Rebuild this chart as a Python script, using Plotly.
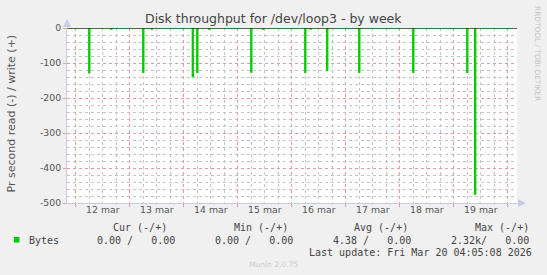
import plotly.graph_objects as go
import pandas as pd

# ---- data ----
range_start = "2026-03-11 20:05:08"
range_end = "2026-03-20 04:05:08"
step_minutes = 30

spike_times = ["2026-03-12 05:45", "2026-03-12 15:30", "2026-03-13 05:45", "2026-03-13 09:30",
               "2026-03-14 03:45", "2026-03-14 05:45", "2026-03-14 11:00", "2026-03-15 05:45",
               "2026-03-15 11:00", "2026-03-16 05:45", "2026-03-16 08:00", "2026-03-16 15:30",
               "2026-03-17 05:45", "2026-03-18 05:45", "2026-03-19 05:45", "2026-03-19 09:15"]
spike_values = [-128, -3, -127, -3,
                -140, -127, -3, -126,
                -3, -127, -3, -121,
                -127, -127, -127, -475]

day_gridlines = ["2026-03-12", "2026-03-13", "2026-03-14", "2026-03-15", "2026-03-16",
                 "2026-03-17", "2026-03-18", "2026-03-19", "2026-03-20"]
label_positions = ["2026-03-12 12:00", "2026-03-13 12:00", "2026-03-14 12:00", "2026-03-15 12:00",
                   "2026-03-16 12:00", "2026-03-17 12:00", "2026-03-18 12:00", "2026-03-19 12:00"]
tick_labels = ["12 mar", "13 mar", "14 mar", "15 mar", "16 mar", "17 mar", "18 mar", "19 mar"]

y_ticks = [0, -100, -200, -300, -400, -500]
y_tick_labels = ["0", "-100", "-200", "-300", "-400", "-500"]

legend_headers = ["Cur (-/+)", "Min (-/+)", "Avg (-/+)", "Max (-/+)"]
legend_values = ["0.00 /   0.00", "0.00 /   0.00", "4.38 /   0.00", "2.32k/   0.00"]
series_name = "Bytes"
last_update = "Last update: Fri Mar 20 04:05:08 2026"

# ---- build step series ----
xs = [pd.Timestamp(range_start)]
ys = [0]
for t, v in sorted(zip(spike_times, spike_values)):
    ts = pd.Timestamp(t)
    xs += [ts, ts + pd.Timedelta(minutes=step_minutes)]
    ys += [v, 0]
xs.append(pd.Timestamp(range_end))
ys.append(0)

W, H = 547, 275
L, R, T, B = 67, 30, 28, 72
PW, PH = W - L - R, H - T - B


def px(x):
    return (x - L) / PW


def py(y):
    return (H - B - y) / PH


GREEN = "#00CC00"
MAJOR = "#e89a9a"
MINOR = "#c4c4c4"

fig = go.Figure()
fig.add_trace(go.Scatter(x=xs, y=ys, mode="lines", line=dict(color=GREEN, width=1.2, shape="hv"),
                         fill="tozeroy", fillcolor="rgba(0,204,0,0.5)", hoverinfo="skip",
                         showlegend=False))
# invisible trace for the label axis
fig.add_trace(go.Scatter(x=[range_start, range_end], y=[0, 0], xaxis="x2", mode="lines",
                         line=dict(width=0), hoverinfo="skip", showlegend=False))

fig.update_layout(
    width=W, height=H,
    margin=dict(l=L, r=R, t=T, b=B),
    paper_bgcolor="#F0F0F0",
    plot_bgcolor="#FFFFFF",
    font=dict(family="DejaVu Sans", size=9.3, color="#555"),
    xaxis=dict(
        type="date", range=[range_start, range_end],
        tickmode="array", tickvals=day_gridlines, showticklabels=False,
        ticks="outside", ticklen=3, tickcolor=MAJOR,
        showgrid=True, gridcolor=MAJOR, griddash="dot", gridwidth=1,
        minor=dict(dtick=6 * 3600 * 1000, tick0="2026-03-12", showgrid=True,
                   gridcolor=MINOR, griddash="dot", gridwidth=1, ticks=""),
        showline=True, linecolor="#c8cce8", linewidth=1,
        zeroline=False, layer="below traces",
    ),
    xaxis2=dict(
        type="date", range=[range_start, range_end], overlaying="x", side="bottom",
        anchor="y", tickmode="array", tickvals=label_positions, ticktext=tick_labels,
        showgrid=False, showline=False, ticks="", zeroline=False,
        tickfont=dict(family="DejaVu Sans", size=9.3, color="#555"),
    ),
    yaxis=dict(
        range=[-500, 0], tickmode="array", tickvals=y_ticks, ticktext=y_tick_labels,
        ticks="outside", ticklen=3, tickcolor=MAJOR,
        showgrid=True, gridcolor=MAJOR, griddash="dot", gridwidth=1,
        minor=dict(dtick=20, tick0=0, showgrid=True, gridcolor=MINOR, griddash="dot",
                   gridwidth=1, ticks=""),
        showline=True, linecolor="#c8cce8", linewidth=1,
        zeroline=False, tickfont=dict(size=9.3, color="#555"),
    ),
    showlegend=False,
)

shapes = [
    # black zero line on top
    dict(type="line", xref="paper", yref="y", x0=0, x1=1, y0=0, y1=0,
         line=dict(color="#000000", width=1), layer="above"),
    # axis arrows
    dict(type="path", xref="paper", yref="paper",
         path=f"M {px(63)} {py(27)} L {px(71)} {py(27)} L {px(67)} {py(19)} Z",
         fillcolor="#c8cce8", line=dict(width=0)),
    dict(type="path", xref="paper", yref="paper",
         path=f"M {px(518)} {py(199)} L {px(518)} {py(207)} L {px(526)} {py(203)} Z",
         fillcolor="#c8cce8", line=dict(width=0)),
    # legend square
    dict(type="rect", xref="paper", yref="paper", x0=px(14), x1=px(19.5), y0=py(242.5), y1=py(237),
         fillcolor=GREEN, line=dict(width=0)),
]
fig.update_layout(shapes=shapes)

ann = []
ann.append(dict(text="Disk throughput for /dev/loop3 - by week", x=px(273.5), y=py(18.5),
                xref="paper", yref="paper", showarrow=False, xanchor="center", yanchor="middle",
                font=dict(family="DejaVu Sans", size=12.5, color="#444")))
ann.append(dict(text="Pr second read (-) / write (+)", x=px(10.5), y=py(114), textangle=-90,
                xref="paper", yref="paper", showarrow=False, xanchor="center", yanchor="middle",
                font=dict(family="DejaVu Sans", size=11, color="#555")))
ann.append(dict(text="RRDTOOL / TOBI OETIKER", x=px(538), y=py(53), textangle=90,
                xref="paper", yref="paper", showarrow=False, xanchor="center", yanchor="middle",
                font=dict(family="DejaVu Sans", size=7.4, color="#c4c4c4")))
ann.append(dict(text="Munin 2.0.75", x=px(273), y=py(264),
                xref="paper", yref="paper", showarrow=False, xanchor="center", yanchor="middle",
                font=dict(family="DejaVu Sans", size=7.5, color="#cccccc")))

mono = dict(family="DejaVu Sans Mono", size=10, color="#444")
header_x = [111, 231.7, 352.3, 472.7]
value_x = [95.3, 212.7, 331, 448.7]
for hx, htxt in zip(header_x, legend_headers):
    ann.append(dict(text=htxt, x=px(hx), y=py(227.5), xref="paper", yref="paper", showarrow=False,
                    xanchor="left", yanchor="middle", font=mono))
ann.append(dict(text=series_name, x=px(26.7), y=py(240), xref="paper", yref="paper", showarrow=False,
                xanchor="left", yanchor="middle", font=mono))
for vx, vtxt in zip(value_x, legend_values):
    ann.append(dict(text=vtxt.replace(" ", "&nbsp;"), x=px(vx), y=py(240), xref="paper", yref="paper",
                    showarrow=False, xanchor="left", yanchor="middle", font=mono))
ann.append(dict(text=last_update.replace(" ", "&nbsp;"), x=px(533.5), y=py(252), xref="paper", yref="paper",
                showarrow=False, xanchor="right", yanchor="middle", font=mono))
fig.update_layout(annotations=ann)

fig.write_html("out.html")
